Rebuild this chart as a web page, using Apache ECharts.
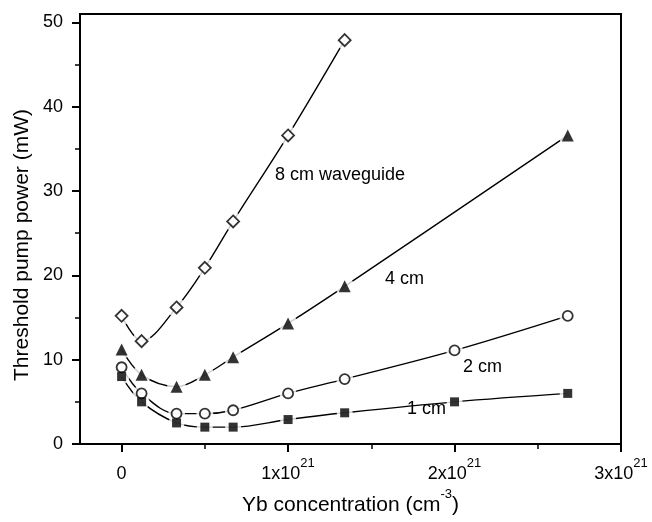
<!DOCTYPE html>
<html>
<head>
<meta charset="utf-8">
<script src="https://cdn.jsdelivr.net/npm/echarts@6/dist/echarts.min.js"></script>
<style>html,body{margin:0;padding:0;background:#fff}#c{width:652px;height:522px}</style>
</head>
<body>
<div id="c"></div>
<script>
// Yb concentration in units of 1e21 cm^-3
const conc8 = [0, 0.12, 0.33, 0.5, 0.67, 1.0, 1.34];
const power8 = [15.2, 12.2, 16.2, 20.9, 26.4, 36.6, 47.9];
const conc4 = [0, 0.12, 0.33, 0.5, 0.67, 1.0, 1.34, 2.68];
const power4 = [11.2, 8.2, 6.8, 8.2, 10.3, 14.3, 18.7, 36.6];
const conc2 = [0, 0.12, 0.33, 0.5, 0.67, 1.0, 1.34, 2.0, 2.68];
const power2 = [9.1, 6.0, 3.6, 3.6, 4.0, 6.0, 7.7, 11.1, 15.2];
const conc1 = [0, 0.12, 0.33, 0.5, 0.67, 1.0, 1.34, 2.0, 2.68];
const power1 = [8.0, 5.0, 2.5, 2.0, 2.0, 2.9, 3.7, 5.0, 6.0];
const xMajorTicks = [0, 1, 2, 3];
const xMinorTicks = [0.5, 1.5, 2.5];
const yMajorTicks = [0, 10, 20, 30, 40, 50];
const yMinorTicks = [5, 15, 25, 35, 45];
const seriesLabels = ['8 cm waveguide', '4 cm', '2 cm', '1 cm'];
const yTitle = 'Threshold pump power (mW)';

const FONT = 'Liberation Sans';
const pairs = (xs, ys) => xs.map((x, i) => [x, ys[i]]);
const sets = [
  {data: pairs(conc8, power8), symbol: 'diamond', size: 12, fill: '#fff'},
  {data: pairs(conc4, power4), symbol: 'triangle', size: 12, fill: '#000'},
  {data: pairs(conc2, power2), symbol: 'circle', size: 10, fill: '#fff'},
  {data: pairs(conc1, power1), symbol: 'rect', size: 9, fill: '#000'}
];

const series = [];
sets.forEach(s => series.push({
  type: 'line', data: s.data, smooth: 0.35, showSymbol: false, symbol: 'none',
  lineStyle: {color: '#000', width: 1.4}, z: 2, silent: true, animation: false
}));
sets.forEach(s => series.push({
  type: 'scatter', data: s.data, symbol: 'circle', symbolSize: s.size + 7,
  itemStyle: {color: '#fff'}, z: 3, silent: true, animation: false
}));
sets.forEach(s => series.push({
  type: 'scatter', data: s.data, symbol: s.symbol, symbolSize: s.size,
  itemStyle: {color: s.fill, borderColor: '#000', borderWidth: s.fill === '#fff' ? 1.8 : 0},
  z: 4, silent: true, animation: false
}));

const supRich = {
  n: {fontSize: 18, fontFamily: FONT, color: '#000', verticalAlign: 'bottom', lineHeight: 26},
  sup: {fontSize: 13, fontFamily: FONT, color: '#000', verticalAlign: 'top', lineHeight: 26}
};
const titleRich = {
  n: {fontSize: 21, fontFamily: FONT, color: '#000', verticalAlign: 'bottom', lineHeight: 28},
  sup: {fontSize: 13, fontFamily: FONT, color: '#000', verticalAlign: 'top', lineHeight: 28}
};

const chart = echarts.init(document.getElementById('c'));
chart.setOption({
  backgroundColor: '#fff',
  animation: false,
  grid: {left: 80, right: 31, top: 14, bottom: 78, show: true, borderColor: '#000', borderWidth: 2,
         backgroundColor: 'transparent', containLabel: false, outerBoundsMode: 'none'},
  xAxis: [{
    type: 'value', min: -0.25, max: 3,
    name: '{n|Yb concentration (cm}{sup|-3}{n|)}', nameLocation: 'middle', nameGap: 42,
    nameTextStyle: {color: '#000', fontFamily: FONT, fontSize: 21, rich: titleRich},
    axisLine: {show: true, onZero: false, lineStyle: {color: '#000', width: 2}},
    axisTick: {show: true, customValues: xMajorTicks, length: 8, lineStyle: {color: '#000', width: 2}},
    axisLabel: {
      color: '#000', fontFamily: FONT, fontSize: 18,
      customValues: xMajorTicks, margin: 13,
      formatter: v => v === 0 ? '{n|0}' : '{n|' + Math.round(v) + 'x10}{sup|21}',
      rich: supRich
    },
    splitLine: {show: false}
  }, {
    type: 'value', min: -0.25, max: 3, position: 'bottom', offset: 0,
    axisLine: {show: false, onZero: false}, axisLabel: {show: false}, splitLine: {show: false},
    axisTick: {show: true, customValues: xMinorTicks, length: 5, lineStyle: {color: '#000', width: 1.5}}
  }],
  yAxis: [{
    type: 'value', min: 0, max: 51,
    axisLine: {show: true, onZero: false, lineStyle: {color: '#000', width: 2}},
    axisTick: {show: true, customValues: yMajorTicks, length: 8, lineStyle: {color: '#000', width: 2}},
    axisLabel: {color: '#000', fontFamily: FONT, fontSize: 18, customValues: yMajorTicks, margin: 17},
    splitLine: {show: false}
  }, {
    type: 'value', min: 0, max: 51, position: 'left', offset: 0,
    axisLine: {show: false, onZero: false}, axisLabel: {show: false}, splitLine: {show: false},
    axisTick: {show: true, customValues: yMinorTicks, length: 5, lineStyle: {color: '#000', width: 1.5}}
  }],
  series: series,
  graphic: [
    {type: 'text', x: 22, y: 245, rotation: Math.PI / 2, style: {text: yTitle, fill: '#000', font: '21px "Liberation Sans"', textAlign: 'center', textVerticalAlign: 'middle'}},
    {type: 'text', x: 275, y: 175, style: {text: seriesLabels[0], fill: '#000', font: '18px "Liberation Sans"', textVerticalAlign: 'middle'}},
    {type: 'text', x: 385, y: 279, style: {text: seriesLabels[1], fill: '#000', font: '18px "Liberation Sans"', textVerticalAlign: 'middle'}},
    {type: 'text', x: 463, y: 367, style: {text: seriesLabels[2], fill: '#000', font: '18px "Liberation Sans"', textVerticalAlign: 'middle'}},
    {type: 'text', x: 407, y: 409, style: {text: seriesLabels[3], fill: '#000', font: '18px "Liberation Sans"', textVerticalAlign: 'middle'}}
  ]
});
</script>
</body>
</html>
